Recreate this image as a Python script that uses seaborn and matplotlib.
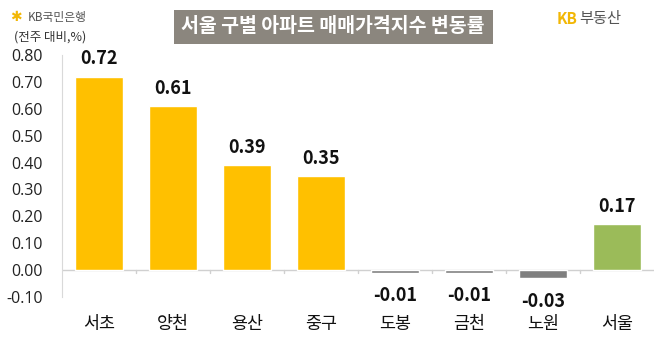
import matplotlib
matplotlib.use("Agg")
import matplotlib.pyplot as plt
import matplotlib.transforms as mtransforms
from matplotlib.patches import Rectangle
import seaborn as sns

# ---- Data ----
districts = ['서초', '양천', '용산', '중구', '도봉', '금천', '노원', '서울']
changes = [0.72, 0.61, 0.39, 0.35, -0.01, -0.01, -0.03, 0.17]
bar_colors = ['#FFC000', '#FFC000', '#FFC000', '#FFC000',
              '#7F7F7F', '#7F7F7F', '#7F7F7F', '#9BBB59']
yticks = [-0.10, 0.00, 0.10, 0.20, 0.30, 0.40, 0.50, 0.60, 0.70, 0.80]

title = '서울 구별 아파트 매매가격지수 변동률'
unit_note = '(전주 대비,%)'

sns.set_style('white')
plt.rcParams['font.family'] = ['Noto Sans CJK KR', 'DejaVu Sans']

fig = plt.figure(figsize=(6.58, 3.59), dpi=100)
ax = fig.add_axes([62 / 658, 62 / 359, 592 / 658, 242 / 359])

sns.barplot(x=districts, y=changes, hue=districts, palette=bar_colors,
            legend=False, width=0.66, saturation=1, ax=ax)

ax.set_ylim(-0.10, 0.80)
ax.set_xlim(-0.5, len(districts) - 0.5)
ax.set_yticks(yticks)
ax.set_yticklabels([f'{t:.2f}' for t in yticks], fontsize=11.5,
                   color='#222222', family=['Open Sans'])
ax.tick_params(axis='y', direction='in', length=4, color='#d0d0d0', pad=14)
ax.set_xlabel('')
ax.set_ylabel('')

for side in ['top', 'right', 'bottom']:
    ax.spines[side].set_visible(False)
ax.spines['left'].set_color('#d9d9d9')

# zero line with small ticks between categories
ax.axhline(0, color='#d0d0d0', lw=1, zorder=0)
ax.set_xticks([])
trans = mtransforms.blended_transform_factory(ax.transData, ax.transAxes)
for i in range(len(districts) - 1):
    ax.plot([i + 0.5, i + 0.5], [0, -0.012], color='#d0d0d0', lw=1,
            clip_on=False)

# value labels
for i, v in enumerate(changes):
    if v >= 0:
        ax.text(i, v + 0.03, f'{v:.2f}', ha='center', va='bottom',
                fontsize=13, fontweight='bold', color='#111111')
    else:
        ax.text(i, v - 0.05, f'{v:.2f}', ha='center', va='top',
                fontsize=13, fontweight='bold', color='#111111')

# category labels below the plot
for i, d in enumerate(districts):
    ax.text(i, -0.11, d, transform=trans, ha='center', va='center',
            fontsize=12.5, color='#111111')

# title box
fig.patches.append(Rectangle((174 / 658, 1 - 44 / 359), 319 / 658, 34 / 359,
                             transform=fig.transFigure, fc='#8B867E',
                             ec='none', zorder=0))
fig.text(333 / 658, 1 - 27 / 359, title, ha='center', va='center',
         fontsize=14, fontweight='bold', color='white')

# top-left bank mark and unit
fig.text(10 / 658, 1 - 17 / 359, '✱', ha='left', va='center',
         fontsize=10, color='#F2B705', family=['DejaVu Sans'])
fig.text(28 / 658, 1 - 17 / 359, 'KB국민은행', ha='left', va='center',
         fontsize=8.5, color='#555555')
fig.text(14 / 658, 1 - 37 / 359, unit_note, ha='left', va='center',
         fontsize=9, color='#333333')

# top-right brand
fig.text(577 / 658, 1 - 19 / 359, 'KB', ha='right', va='center',
         fontsize=11, fontweight='bold', color='#F2B705')
fig.text(579 / 658, 1 - 19 / 359, '부동산', ha='left', va='center',
         fontsize=11, color='#555555')

fig.savefig('out.png', dpi=100)
